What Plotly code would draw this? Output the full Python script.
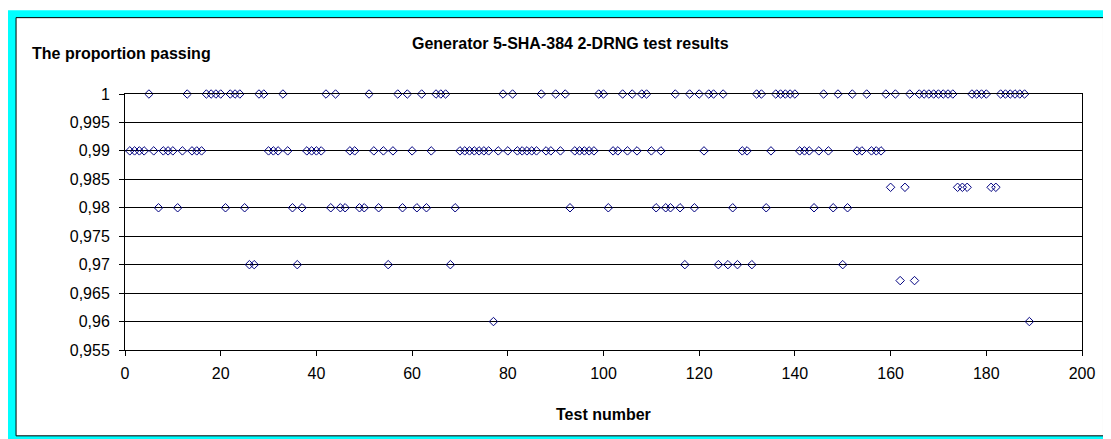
import plotly.graph_objects as go

# ---- data: test numbers grouped by the proportion passing ----
tests_p1000 = [5, 13, 17, 18, 19, 20, 22, 23, 24, 28, 29, 33, 42, 44, 51, 57, 59, 62, 65, 66, 67,
               79, 81, 87, 90, 92, 99, 100, 104, 106, 108, 109, 115, 118, 120, 122, 123, 125,
               132, 133, 136, 137, 138, 139, 140, 146, 149, 152, 155, 159, 161, 164,
               166, 167, 168, 169, 170, 171, 172, 173, 177, 178, 179, 180,
               183, 184, 185, 186, 187, 188]
tests_p0990 = [1, 2, 3, 4, 6, 8, 9, 10, 12, 14, 15, 16, 30, 31, 32, 34, 38, 39, 40, 41, 47, 48,
               52, 54, 56, 60, 64, 70, 71, 72, 73, 74, 75, 76, 78, 80, 82, 83, 84, 85, 86,
               88, 89, 91, 94, 95, 96, 97, 98, 102, 103, 105, 107, 110, 112, 121, 129, 130,
               135, 141, 142, 143, 145, 147, 153, 154, 156, 157, 158]
tests_p0984 = [160, 163, 174, 175, 176, 181, 182]
tests_p0980 = [7, 11, 21, 25, 35, 37, 43, 45, 46, 49, 50, 53, 58, 61, 63, 69, 93, 101,
               111, 113, 114, 116, 119, 127, 134, 144, 148, 151]
tests_p0970 = [26, 27, 36, 55, 68, 117, 124, 126, 128, 131, 150]
tests_p0967 = [162, 165]
tests_p0960 = [77, 189]

levels = [1.0, 0.99, 0.9836, 0.98, 0.97, 0.9672, 0.96]
groups = [tests_p1000, tests_p0990, tests_p0984, tests_p0980, tests_p0970, tests_p0967, tests_p0960]

y_ticks = [0.955, 0.96, 0.965, 0.97, 0.975, 0.98, 0.985, 0.99, 0.995, 1.0]
y_ticktext = ["0,955", "0,96", "0,965", "0,97", "0,975", "0,98", "0,985", "0,99", "0,995", "1"]
x_ticks = [0, 20, 40, 60, 80, 100, 120, 140, 160, 180, 200]

pairs = sorted((t, lv) for lv, g in zip(levels, groups) for t in g)
xs = [p[0] for p in pairs]
ys = [p[1] for p in pairs]

# ---- layout geometry (figure pixels; page has an 8px body margin) ----
OFF = 8
W, H = 1103, 431
L, R, T, B = 116.5, 29, 86, 88.5
PW, PH = W - L - R, H - T - B


def px(x_page):
    return (x_page - OFF - L) / PW


def py(y_page):
    return (H - B - (y_page - OFF)) / PH


FONT = "Liberation Sans, Arial, sans-serif"

fig = go.Figure()
fig.add_trace(go.Scatter(
    x=xs, y=ys, mode="markers",
    marker=dict(symbol="diamond-open", size=6.5, color="#000080", line=dict(width=1, color="#000080")),
    cliponaxis=False, showlegend=False, hoverinfo="x+y",
))

shapes = [
    dict(type="rect", xref="paper", yref="paper", x0=px(0), x1=px(1120), y0=py(460), y1=py(10),
         fillcolor="#00FFFF", line=dict(width=0), layer="below"),
    dict(type="rect", xref="paper", yref="paper", x0=px(15.5), x1=px(1103.5), y0=py(436.5), y1=py(17.5),
         fillcolor="white", line=dict(width=1, color="black"), layer="below"),
]

annotations = [
    dict(text="<b>Generator 5-SHA-384 2-DRNG test results</b>", xref="paper", yref="paper",
         x=px(570), y=py(43), xanchor="center", yanchor="middle", showarrow=False,
         font=dict(family=FONT, size=16, color="black")),
    dict(text="<b>The proportion passing</b>", xref="paper", yref="paper",
         x=px(29), y=py(53), xanchor="left", yanchor="middle", showarrow=False,
         font=dict(family=FONT, size=16, color="black")),
    dict(text="<b>Test number</b>", xref="paper", yref="paper",
         x=px(603), y=py(415), xanchor="center", yanchor="middle", showarrow=False,
         font=dict(family=FONT, size=16, color="black")),
]

fig.update_layout(
    width=W, height=H, autosize=False,
    margin=dict(l=L, r=R, t=T, b=B, pad=0),
    paper_bgcolor="white", plot_bgcolor="white",
    shapes=shapes, annotations=annotations,
    font=dict(family=FONT, size=16, color="black"),
    xaxis=dict(range=[0, 200], tickvals=x_ticks, showgrid=False, zeroline=False,
               showline=True, linecolor="black", linewidth=1, mirror=True,
               ticks="outside", ticklen=5, tickcolor="black", tickwidth=1,
               tickfont=dict(family=FONT, size=16, color="black"), ticklabelstandoff=4),
    yaxis=dict(range=[0.955, 1.0], tickvals=y_ticks, ticktext=y_ticktext,
               showgrid=True, gridcolor="black", gridwidth=1, zeroline=False,
               showline=True, linecolor="black", linewidth=1, mirror=True,
               ticks="outside", ticklen=5, tickcolor="black", tickwidth=1,
               tickfont=dict(family=FONT, size=16, color="black"), ticklabelstandoff=6),
)

fig.write_html("out.html")
